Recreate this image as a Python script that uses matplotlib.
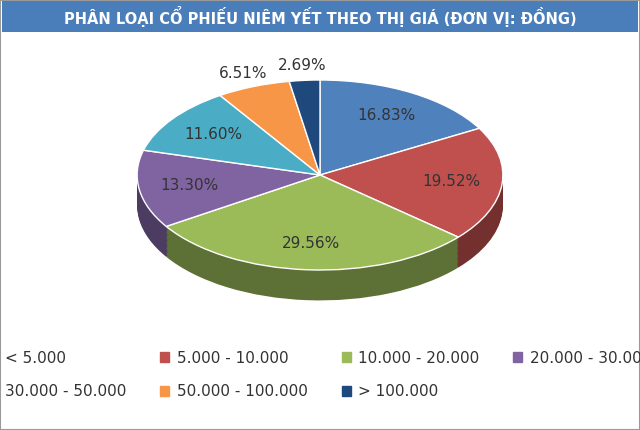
import matplotlib
matplotlib.use("Agg")
import matplotlib.pyplot as plt
import matplotlib.patches as mpatches
import numpy as np

categories = ["< 5.000", "5.000 - 10.000", "10.000 - 20.000", "20.000 - 30.000",
              "30.000 - 50.000", "50.000 - 100.000", "> 100.000"]
values = [16.83, 19.52, 29.56, 13.30, 11.60, 6.51, 2.69]
colors = ["#4F81BD", "#C0504D", "#9BBB59", "#8064A2", "#4BACC6", "#F79646", "#1F497D"]
title = "PHÂN LOẠI CỔ PHIẾU NIÊM YẾT THEO THỊ GIÁ (ĐƠN VỊ: ĐỒNG)"

def darker(c, f=0.6):
    r, g, b = matplotlib.colors.to_rgb(c)
    return (r * f, g * f, b * f)

fig = plt.figure(figsize=(6.4, 4.3), dpi=100)
fig.patches.append(mpatches.Rectangle((0, 0), 1, 1, transform=fig.transFigure,
                                      facecolor="white", edgecolor="#9a9a9a", lw=1.5, zorder=-1))
fig.patches.append(mpatches.Rectangle((0.003, 0.925), 0.994, 0.072, transform=fig.transFigure,
                                      facecolor="#4A7EBB", edgecolor="none"))
fig.text(0.5, 0.961, title, color="white", fontsize=10.5, fontweight="bold",
         ha="center", va="center")

ax = fig.add_axes([0, 0, 1, 1])
depth = 0.32
for dy in np.linspace(-depth, -0.01, 25):
    ax.pie(values, colors=[darker(c) for c in colors], startangle=90, counterclock=False,
           center=(0, dy), radius=1.0, frame=True)
wedges, texts, autotexts = ax.pie(values, colors=colors, startangle=90, counterclock=False,
                                  center=(0, 0), radius=1.0, frame=True,
                                  autopct="%.2f%%", pctdistance=0.72,
                                  wedgeprops=dict(edgecolor="white", linewidth=1))
for t in autotexts:
    t.set_fontsize(11)
    t.set_color("#333333")
for t in autotexts[5:]:
    x, y = t.get_position()
    t.set_position((x * 1.6, y * 1.6))
ax.set_aspect("auto")
ax.set_xlim(-1.75, 1.75)
ax.set_ylim(-2.684, 1.842)
ax.axis("off")

handles = [mpatches.Patch(color=c, label=l) for c, l in zip(colors, categories)]
order = [0, 4, 1, 5, 2, 6, 3]
fig.legend(handles=[handles[i] for i in order], loc="lower center", bbox_to_anchor=(0.5, 0.04), ncol=4,
           frameon=False, fontsize=11, handlelength=0.6, handleheight=0.6,
           columnspacing=2.2, handletextpad=0.5, labelspacing=1.2, labelcolor="#333333")

fig.savefig("out.png", dpi=100)
